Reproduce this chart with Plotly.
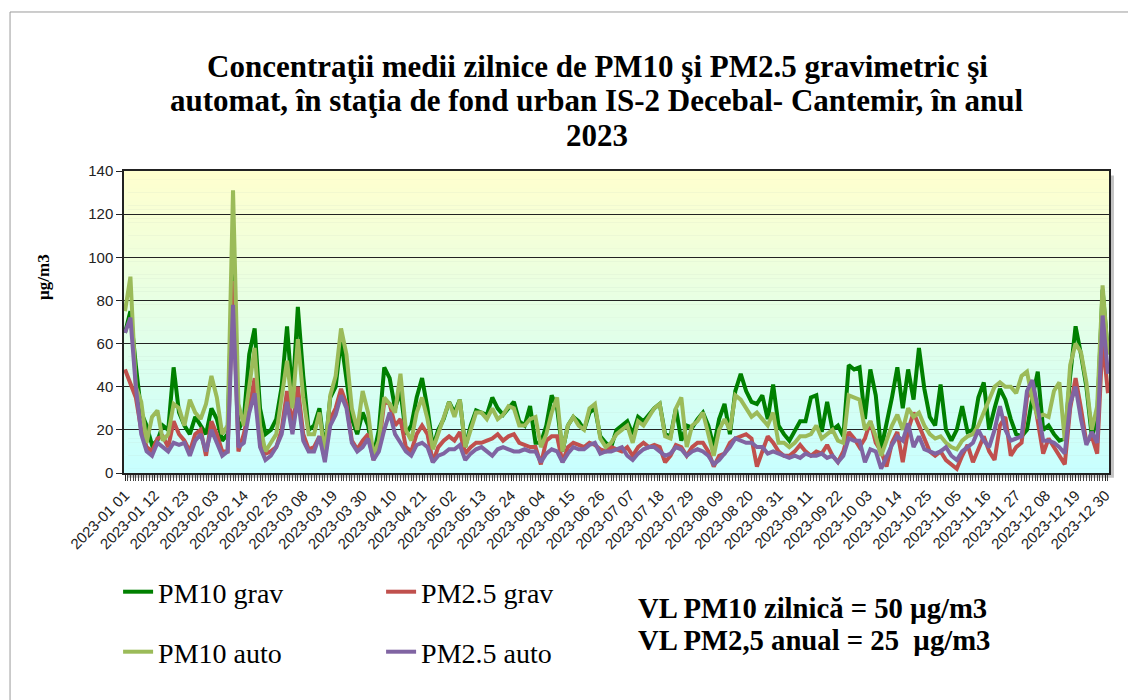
import plotly.graph_objects as go
import pandas as pd

# ---------------- data (values read every 2 days) ----------------
dates = pd.date_range("2023-01-01", "2023-12-31", freq="2D")

pm10_grav = [
    65, 75, 50, 28, 22, 13, 15, 22, 20, 49,
    28, 22, 18, 26, 22, 18, 30, 25, 15, 18,
    104, 20, 25, 55, 67, 30, 18, 20, 25, 40,
    68, 35, 77, 45, 20, 22, 30, 10, 35, 40,
    62, 45, 25, 18, 28, 22, 8, 20, 49, 44,
    30, 38, 18, 22, 35, 44, 30, 12, 20, 25,
    33, 28, 34, 12, 22, 29, 28, 27, 35, 30,
    27, 30, 33, 24, 22, 31, 14, 14, 22, 36,
    30, 10, 22, 26, 24, 20, 28, 30, 17, 14,
    12, 20, 22, 24, 18, 26, 24, 27, 30, 32,
    18, 17, 30, 15, 22, 21, 25, 28, 22, 12,
    25, 32, 18, 38, 46, 38, 33, 32, 36, 25,
    41, 22, 18, 15, 20, 24, 24, 35, 36, 19,
    33, 20, 22, 17, 50, 48, 49, 25, 48, 36,
    11, 22, 35, 49, 30, 48, 34, 58, 39, 26,
    22, 41, 20, 15, 20, 31, 19, 20, 35, 42,
    20, 30, 39, 34, 25, 18, 17, 20, 35, 47,
    20, 22, 18, 15, 16, 45, 68, 55, 40, 17,
    25, 85, 55,
]

pm10_auto = [
    75, 91, 40, 33, 14, 26, 29, 15, 18, 32,
    30, 22, 34, 28, 25, 32, 45, 35, 18, 22,
    131, 32, 22, 40, 58, 22, 10, 14, 18, 35,
    52, 30, 62, 35, 18, 18, 28, 8, 36, 45,
    67, 55, 30, 20, 38, 28, 8, 15, 35, 32,
    28, 46, 20, 15, 28, 35, 25, 11, 18, 25,
    33, 26, 34, 12, 20, 28, 28, 25, 30, 25,
    27, 31, 30, 22, 22, 25, 26, 12, 18, 28,
    35, 10, 22, 26, 22, 20, 30, 32, 16, 12,
    14, 18, 20, 22, 14, 24, 22, 26, 30, 32,
    17, 16, 30, 35, 12, 22, 24, 28, 18, 8,
    20, 25, 20, 36, 34, 30, 26, 28, 25, 22,
    28, 14, 14, 12, 14, 17, 17, 18, 22, 16,
    18, 20, 15, 14, 36, 35, 34, 20, 24, 17,
    8, 15, 22, 27, 20, 30, 26, 28, 22, 18,
    16, 17, 14, 12, 11, 15, 17, 18, 22, 28,
    34, 40, 42, 40, 40, 37, 45, 47, 34, 26,
    27, 26, 38, 42, 15, 50, 60, 56, 42, 20,
    31, 87, 55,
]

pm25_grav = [
    48, 42, 35, 20, 12, 10, 16, 17, 12, 24,
    18, 15, 10, 18, 20, 8, 24, 18, 10, 10,
    89, 10, 18, 30, 44, 15, 9, 10, 12, 20,
    38, 22, 40, 18, 11, 12, 17, 7, 25, 30,
    39, 32, 15, 11, 15, 18, 6, 12, 33, 32,
    22, 25, 12, 10, 18, 22, 18, 5, 12, 15,
    17, 15, 19, 9, 12, 14, 14, 15, 16, 18,
    15, 17, 18, 14, 13, 12, 12, 4, 15, 17,
    17, 5, 12, 14, 13, 12, 14, 13, 11, 10,
    12, 11, 10, 12, 8, 12, 14, 12, 13, 12,
    5, 8, 13, 12, 8, 12, 14, 14, 10, 3,
    8, 9, 14, 16, 17, 18, 16, 3, 10, 17,
    14, 10, 8, 8, 10, 13, 10, 8, 10, 9,
    13, 8, 5, 10, 19, 16, 12, 16, 24, 14,
    10, 3, 14, 19, 5, 20, 28, 22, 15, 10,
    8, 10, 6, 4, 2, 8, 13, 5, 11, 17,
    10, 6, 22, 26, 8, 12, 14, 35, 39, 23,
    9, 16, 12, 8, 4, 30, 44, 30, 14, 17,
    9, 62, 37,
]

pm25_auto = [
    65, 72, 40, 18, 10, 8, 14, 12, 10, 14,
    13, 14, 8, 15, 18, 10, 20, 14, 8, 10,
    78, 12, 14, 28, 37, 12, 6, 8, 12, 18,
    33, 18, 35, 15, 10, 10, 17, 5, 22, 27,
    36, 30, 14, 10, 12, 16, 6, 10, 20, 28,
    18, 14, 10, 8, 13, 14, 12, 5, 8, 9,
    11, 11, 13, 6, 9, 11, 12, 10, 8, 11,
    12, 11, 10, 10, 11, 10, 10, 5, 9, 11,
    10, 5, 9, 12, 11, 11, 13, 14, 9, 10,
    10, 11, 12, 8, 6, 9, 11, 12, 12, 10,
    8, 9, 12, 11, 8, 10, 11, 10, 8, 4,
    6, 9, 12, 16, 15, 14, 14, 12, 12, 9,
    10, 9, 8, 7, 8, 7, 9, 8, 8, 9,
    7, 8, 5, 8, 16, 15, 15, 5, 11, 10,
    2, 8, 13, 17, 15, 23, 12, 17, 11, 10,
    9, 10, 12, 8, 6, 10, 12, 14, 20, 15,
    12, 20, 31, 20, 15, 16, 17, 38, 43, 30,
    15, 15, 14, 12, 9, 32, 40, 25, 13, 19,
    14, 73, 46,
]

series_names = ["PM10 grav", "PM2.5 grav", "PM10 auto", "PM2.5 auto"]
series_values = [pm10_grav, pm25_grav, pm10_auto, pm25_auto]
series_colors = ["#008000", "#C0504D", "#9BBB59", "#8064A2"]
series_legend = ["legend", "legend", "legend2", "legend2"]

title_lines = [
    "Concentraţii medii zilnice de PM10 şi PM2.5 gravimetric şi",
    "automat, în staţia de fond urban IS-2 Decebal- Cantemir, în anul",
    "2023",
]
vl_lines = [
    "VL PM10 zilnică = 50 µg/m3",
    "VL PM2,5 anual = 25 \u00a0µg/m3",
]

# ---------------- figure ----------------
fig = go.Figure()
for name, vals, color, leg in zip(series_names, series_values, series_colors, series_legend):
    fig.add_trace(go.Scatter(
        x=dates, y=vals, mode="lines", name=name,
        line=dict(color=color, width=4), legend=leg,
    ))

shapes = []
# outer chart frame
shapes.append(dict(type="rect", xref="paper", yref="paper",
                   x0=-0.1157, x1=1.06, y0=-0.80, y1=1.5265,
                   line=dict(color="#9a9a9a", width=1), fillcolor="rgba(0,0,0,0)",
                   layer="below"))
# plot-area drop shadow
shapes.append(dict(type="rect", xref="paper", yref="paper",
                   x0=0.004, x1=1.005, y0=-0.016, y1=0.985,
                   line=dict(width=0), fillcolor="rgba(120,120,120,0.45)",
                   layer="below"))
# vertical gradient background (yellow top -> cyan bottom)
top = (255, 255, 206)
bot = (200, 255, 255)
n = 70
for i in range(n):
    t = (i + 0.5) / n
    c = tuple(round(bot[k] + (top[k] - bot[k]) * t) for k in range(3))
    shapes.append(dict(type="rect", xref="paper", yref="y",
                       x0=0, x1=1, y0=140 * i / n, y1=140 * (i + 1) / n + 0.15,
                       line=dict(width=0), fillcolor="rgb(%d,%d,%d)" % c,
                       layer="below"))

annotations = []
for txt, py in zip(title_lines, [66, 101, 136]):
    annotations.append(dict(text="<b>%s</b>" % txt, xref="paper", yref="paper",
                            x=(597 - 124) / 985, y=1 + (171 - py) / 302,
                            xanchor="center", yanchor="middle", showarrow=False,
                            font=dict(family="Liberation Serif", size=31, color="black")))
for txt, py in zip(vl_lines, [608, 640]):
    annotations.append(dict(text="<b>%s</b>" % txt, xref="paper", yref="paper",
                            x=(636 - 124) / 985, y=1 + (171 - py) / 302,
                            xanchor="left", yanchor="middle", showarrow=False,
                            font=dict(family="Liberation Serif", size=28.7, color="black")))
annotations.append(dict(text="<b>µg/m3</b>", xref="paper", yref="paper",
                        x=(43 - 124) / 985, y=1 + (171 - 277) / 302, textangle=-90,
                        xanchor="center", yanchor="middle", showarrow=False,
                        font=dict(family="Liberation Serif", size=17, color="black")))

legend_common = dict(orientation="h", xanchor="left", yanchor="middle",
                     entrywidth=218, entrywidthmode="pixels", itemwidth=30,
                     bgcolor="rgba(0,0,0,0)",
                     font=dict(family="Liberation Serif", size=28, color="black"))

# the page body adds an 8px offset, so margins are reduced by 8px on left/top
fig.update_layout(
    width=1136, height=700,
    margin=dict(l=116, r=35, t=163, b=235),
    paper_bgcolor="white", plot_bgcolor="#e8fff0",
    showlegend=True,
    legend=dict(**legend_common, x=-0.006, y=1 + (171 - 592) / 302),
    legend2=dict(**legend_common, x=-0.006, y=1 + (171 - 652) / 302),
    shapes=shapes, annotations=annotations,
    xaxis=dict(
        type="date",
        range=["2022-12-31 15:00", "2023-12-31 09:00"],
        tick0="2023-01-01", dtick=11 * 86400000, tickformat="%Y-%m %d",
        tickangle=-45, ticks="outside", ticklen=6, tickcolor="#222",
        showline=True, mirror=True, linecolor="#222", linewidth=1.5,
        showgrid=False, zeroline=False,
        minor=dict(dtick=86400000, ticks="outside", ticklen=6,
                   tickcolor="#444", tickwidth=1, showgrid=False),
        tickfont=dict(family="Liberation Sans", size=15, color="#222"),
    ),
    yaxis=dict(
        range=[0, 140], tick0=0, dtick=20,
        showgrid=True, gridcolor="#222", gridwidth=1.2,
        showline=True, mirror=True, linecolor="#222", linewidth=1.5,
        ticks="outside", ticklen=6, tickcolor="#222", zeroline=False,
        tickfont=dict(family="Liberation Sans", size=15, color="#222"),
    ),
)

fig.write_html("out.html")
